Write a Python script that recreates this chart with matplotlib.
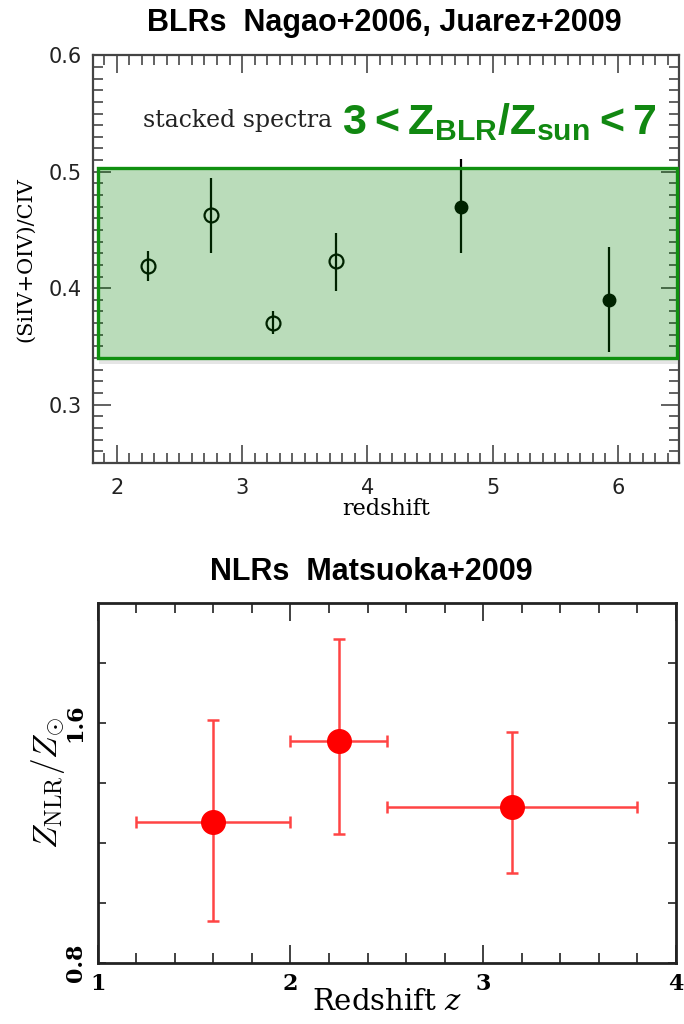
import matplotlib
matplotlib.use("Agg")
import matplotlib.pyplot as plt
from matplotlib.patches import Rectangle
from matplotlib.ticker import MultipleLocator, FixedLocator

# BLR stacked spectra: (SiIV+OIV)/CIV vs redshift
blr_z = [2.25, 2.75, 3.25, 3.75, 4.75, 5.93]
blr_ratio = [0.419, 0.463, 0.370, 0.423, 0.470, 0.390]
blr_err_lo = [0.013, 0.033, 0.009, 0.025, 0.040, 0.045]
blr_err_hi = [0.013, 0.032, 0.010, 0.024, 0.041, 0.045]
blr_open = [True, True, True, True, False, False]
band_lo, band_hi = 0.34, 0.503

# NLR metallicity vs redshift
nlr_z = [1.60, 2.25, 3.15]
nlr_z_lo = [0.40, 0.25, 0.65]
nlr_z_hi = [0.40, 0.25, 0.65]
nlr_met = [1.27, 1.54, 1.32]
nlr_met_lo = [0.33, 0.31, 0.22]
nlr_met_hi = [0.34, 0.34, 0.25]

# Arial-like bold face for the green metallicity range label
plt.rcParams["mathtext.bf"] = "Liberation Sans:bold"
plt.rcParams["mathtext.rm"] = "Liberation Sans:bold"

fig = plt.figure(figsize=(6.84, 10.24), dpi=100)

# ---------- top panel ----------
ax1 = fig.add_axes([0.136, 0.548, 0.857, 0.398])
ink = "black"
for x, y, lo, hi, op in zip(blr_z, blr_ratio, blr_err_lo, blr_err_hi, blr_open):
    ax1.errorbar(x, y, yerr=[[lo], [hi]], fmt="none", ecolor=ink, elinewidth=1.6, zorder=2)
    if op:
        ax1.plot(x, y, "o", ms=10, mfc="none", mec=ink, mew=1.6, zorder=3)
    else:
        ax1.plot(x, y, "o", ms=9, mfc=ink, mec=ink, zorder=3)

# soft shadow and the green band drawn over the points
ax1.add_patch(Rectangle((1.86, band_lo - 0.005), 4.62, 0.005, facecolor="#cccccc",
                        alpha=0.5, edgecolor="none", zorder=4))
ax1.add_patch(Rectangle((1.85, band_lo), 4.62, band_hi - band_lo, facecolor="#008000",
                        alpha=0.27, edgecolor="none", zorder=5))
ax1.add_patch(Rectangle((1.85, band_lo), 4.62, band_hi - band_lo, facecolor="none",
                        edgecolor="#109010", lw=2.4, zorder=6))

ax1.set_xlim(1.81, 6.49)
ax1.set_ylim(0.25, 0.6)
ax1.xaxis.set_major_locator(MultipleLocator(1))
ax1.xaxis.set_minor_locator(MultipleLocator(0.1))
ax1.yaxis.set_major_locator(MultipleLocator(0.1))
ax1.yaxis.set_minor_locator(MultipleLocator(0.01))
ax1.tick_params(which="both", direction="in", top=True, right=True, color="#555555", width=1.3)
ax1.tick_params(which="major", length=13, labelsize=15, pad=11)
ax1.tick_params(which="minor", length=7)
ax1.tick_params(axis="y", which="major", pad=8)
for lab in ax1.get_xticklabels() + ax1.get_yticklabels():
    lab.set_family("DejaVu Sans")
    lab.set_color("#222222")
for s in ax1.spines.values():
    s.set_linewidth(1.6)
    s.set_color("#444444")
ax1.set_xlabel("redshift", family="DejaVu Serif", fontsize=16, labelpad=0)
ax1.set_ylabel("(SiIV+OIV)/CIV", family="DejaVu Serif", fontsize=15, labelpad=10)

ax1.text(2.21, 0.544, "stacked spectra", family="DejaVu Serif", fontsize=17,
         va="center", ha="left", color="#222222")
ax1.text(5.05, 0.543, r"$\mathbf{3 < Z_{BLR}/Z_{sun} < 7}$", fontsize=31,
         color="#118811", va="center", ha="center", math_fontfamily="custom")

fig.text(0.562, 0.978, "BLRs  Nagao+2006, Juarez+2009", ha="center", va="center",
         fontsize=22, fontweight="bold", family="Liberation Sans")

# ---------- bottom panel ----------
ax2 = fig.add_axes([0.143, 0.0596, 0.845, 0.352])
for i in range(len(nlr_z)):
    ax2.errorbar(nlr_z[i], nlr_met[i], xerr=[[nlr_z_lo[i]], [nlr_z_hi[i]]],
                 yerr=[[nlr_met_lo[i]], [nlr_met_hi[i]]], fmt="o", ms=17,
                 color="red", ecolor="#ff4444", elinewidth=1.8, capsize=4,
                 capthick=1.8, zorder=3)

ax2.set_xlim(1, 4)
ax2.set_ylim(0.8, 2.0)
ax2.xaxis.set_major_locator(MultipleLocator(1))
ax2.xaxis.set_minor_locator(MultipleLocator(0.2))
ax2.yaxis.set_major_locator(FixedLocator([0.8, 1.6]))
ax2.yaxis.set_minor_locator(FixedLocator([1.0, 1.2, 1.4, 1.8]))
ax2.tick_params(which="both", direction="in", top=True, right=True, color="#333333", width=1.3)
ax2.tick_params(axis="x", which="major", length=13, labelsize=16, pad=7)
ax2.tick_params(axis="x", which="minor", length=7)
ax2.tick_params(axis="y", which="both", length=6, labelsize=16, pad=8)
for lab in ax2.get_xticklabels():
    lab.set_family("DejaVu Serif")
    lab.set_fontweight("bold")
for lab in ax2.get_yticklabels():
    lab.set_family("DejaVu Serif")
    lab.set_fontweight("bold")
    lab.set_rotation(90)
    lab.set_va("center")
for s in ax2.spines.values():
    s.set_linewidth(2.0)
    s.set_color("#222222")
ax2.set_xlabel(r"Redshift $z$", family="DejaVu Serif", fontsize=21, labelpad=-5,
               math_fontfamily="dejavuserif")
ax2.set_ylabel(r"$Z_{\rm NLR}/Z_{\odot}$", fontsize=24, labelpad=-2, math_fontfamily="cm")

fig.text(0.543, 0.441, "NLRs  Matsuoka+2009", ha="center", va="center",
         fontsize=22, fontweight="bold", family="Liberation Sans")

fig.savefig("out.png", dpi=100)
